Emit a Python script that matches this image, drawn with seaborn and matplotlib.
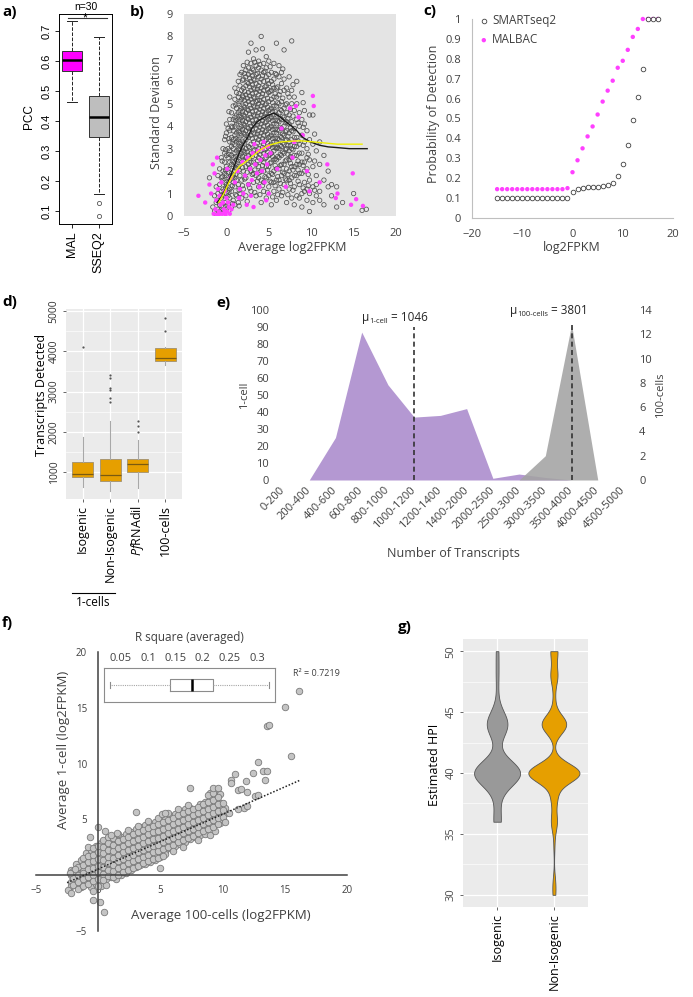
import numpy as np
import pandas as pd
import matplotlib
matplotlib.use("Agg")
import matplotlib.pyplot as plt
import seaborn as sns

# ---------------- data ----------------

# a) PCC per method (box summary)
a_groups = ['MAL', 'SSEQ2']
a_colors = ['#FF00FF', '#BEBEBE']
a_whislo = [0.465, 0.158]
a_q1 = [0.567, 0.348]
a_med = [0.604, 0.413]
a_q3 = [0.635, 0.485]
a_whishi = [0.735, 0.680]
a_fliers = [[], [0.128, 0.085]]

# b) SD vs mean log2FPKM, SMARTseq2 cloud given as columns (x, list of y)
b_smart_x = [-2.0, -1.6, -1.4, -1.2, -1.0, -0.8, -0.6, -0.4, -0.2,
             0.0, 0.2, 0.4, 0.6, 0.8, 1.0, 1.2, 1.4, 1.6, 1.8,
             2.0, 2.3, 2.6, 2.9, 3.2, 3.5, 3.8, 4.1, 4.4, 4.7, 5.0, 5.3, 5.6, 5.9,
             6.2, 6.5, 6.8, 7.1, 7.4, 7.7, 8.0, 8.3, 8.6, 8.9, 9.2, 9.5, 9.8,
             10.2, 10.6, 11.0, 11.5, 12.0, 12.4, 13.0, 13.7, 15.0, 16.0, 16.5]
b_smart_y = [
    [1.7], [0.4], [0.9, 0.2], [0.6, 1.3, 0.1], [0.3, 1.0, 1.8, 0.7],
    [0.5, 1.4, 2.1, 0.2], [0.8, 1.7, 0.3, 2.6, 1.1], [0.4, 1.2, 2.0, 3.0, 0.9, 1.6],
    [0.6, 1.5, 2.4, 3.4, 0.2, 1.9, 2.8],
    [0.3, 1.0, 1.8, 2.7, 3.7, 4.1, 2.2, 1.4],
    [0.5, 1.3, 2.1, 3.0, 3.9, 2.6, 1.7, 0.9],
    [0.8, 1.6, 2.4, 3.3, 4.3, 5.3, 2.9, 1.2, 3.8],
    [0.4, 1.1, 1.9, 2.7, 3.5, 4.6, 2.3, 3.1, 4.0],
    [0.7, 1.5, 2.2, 3.0, 3.8, 4.9, 2.6, 3.4, 4.3, 1.8],
    [0.5, 1.3, 2.0, 2.8, 3.6, 4.4, 5.2, 3.2, 2.4, 4.0, 1.7, 5.7],
    [0.9, 1.6, 2.5, 3.3, 4.1, 4.8, 5.5, 2.9, 3.7, 4.5, 2.1],
    [0.6, 1.4, 2.2, 3.0, 3.8, 4.6, 5.3, 6.0, 3.4, 4.2, 2.6, 5.0],
    [1.0, 1.8, 2.7, 3.5, 4.3, 5.1, 5.8, 3.1, 3.9, 4.7, 2.3, 6.3],
    [0.8, 1.6, 2.4, 3.2, 4.0, 4.8, 5.6, 6.4, 3.6, 4.4, 5.2, 2.8],
    [1.2, 2.0, 2.9, 3.7, 4.5, 5.3, 6.1, 6.7, 3.3, 4.1, 4.9, 5.7, 2.5],
    [0.9, 1.7, 2.6, 3.4, 4.2, 5.0, 5.8, 6.5, 3.0, 3.8, 4.6, 5.4, 6.2, 2.2],
    [1.4, 2.3, 3.1, 3.9, 4.7, 5.5, 6.3, 7.3, 2.7, 3.5, 4.3, 5.1, 5.9, 6.6],
    [1.1, 2.0, 2.8, 3.6, 4.4, 5.2, 6.0, 6.8, 3.2, 4.0, 4.8, 5.6, 6.4, 7.7, 2.4],
    [1.5, 2.4, 3.3, 4.1, 4.9, 5.7, 6.5, 3.7, 4.5, 5.3, 6.1, 2.9, 1.9, 7.0],
    [0.9, 1.8, 2.7, 3.5, 4.3, 5.1, 5.9, 6.7, 3.1, 3.9, 4.7, 5.5, 6.3, 2.3, 7.4],
    [1.3, 2.2, 3.0, 3.8, 4.6, 5.4, 6.2, 6.9, 3.4, 4.2, 5.0, 5.8, 6.6, 2.6, 1.7],
    [0.6, 1.6, 2.5, 3.3, 4.1, 4.9, 5.7, 6.5, 2.9, 3.7, 4.5, 5.3, 6.1, 2.0, 8.0],
    [1.1, 2.0, 2.8, 3.6, 4.4, 5.2, 6.0, 6.8, 3.2, 4.0, 4.8, 5.6, 6.4, 2.4, 1.5],
    [0.8, 1.7, 2.6, 3.4, 4.2, 5.0, 5.8, 6.6, 3.0, 3.8, 4.6, 5.4, 6.2, 2.2, 7.1],
    [1.3, 2.2, 3.1, 3.9, 4.7, 5.5, 6.3, 2.7, 3.5, 4.3, 5.1, 5.9, 1.8, 6.9],
    [0.5, 1.5, 2.4, 3.2, 4.0, 4.8, 5.6, 6.4, 2.8, 3.6, 4.4, 5.2, 6.0, 1.9],
    [1.1, 2.0, 2.9, 3.7, 4.5, 5.3, 6.1, 2.5, 3.3, 4.1, 4.9, 5.7, 6.8, 1.5],
    [0.7, 1.6, 2.5, 3.3, 4.1, 4.9, 5.7, 3.0, 3.7, 4.5, 5.3, 6.3, 2.1, 7.7],
    [1.2, 2.1, 3.0, 3.8, 4.6, 5.4, 6.2, 2.6, 3.4, 4.2, 5.0, 1.6, 6.7],
    [0.9, 1.8, 2.7, 3.5, 4.3, 5.1, 5.9, 3.1, 3.9, 4.7, 2.3, 6.4],
    [1.4, 2.3, 3.2, 4.0, 4.8, 5.6, 2.8, 3.6, 4.4, 1.9, 6.1, 7.4],
    [0.6, 1.6, 2.5, 3.4, 4.2, 5.0, 3.0, 3.8, 4.6, 2.1, 5.7],
    [1.2, 2.0, 2.9, 3.7, 4.5, 5.3, 2.5, 3.3, 4.1, 1.6, 6.2],
    [0.8, 1.7, 2.6, 3.4, 4.2, 5.0, 3.0, 3.8, 2.2, 5.6, 7.8],
    [1.3, 2.2, 3.1, 3.9, 4.7, 2.7, 3.5, 1.8, 5.3, 0.5],
    [0.9, 1.8, 2.7, 3.5, 4.3, 3.1, 2.3, 5.0, 6.0],
    [1.4, 2.3, 3.2, 4.0, 2.8, 1.9, 4.6, 0.8],
    [1.0, 1.9, 2.8, 3.6, 2.4, 4.3, 5.5, 0.4],
    [1.5, 2.4, 3.3, 2.0, 4.1, 1.1, 4.7],
    [1.2, 2.1, 3.0, 2.6, 3.8, 0.7],
    [1.6, 2.5, 1.0, 3.4, 4.5, 0.2],
    [1.3, 2.2, 0.6, 3.2, 4.5],
    [1.8, 0.9, 2.9, 1.4],
    [1.1, 2.3, 3.3, 0.7],
    [1.6, 0.5, 2.7],
    [1.3, 2.0],
    [1.4, 0.9],
    [0.4, 1.3],
    [0.6],
    [1.0],
    [0.25],
    [0.3],
]
# b) second set of SMARTseq2 columns filling the dense core
b_smart2_x = [-0.5, -0.1, 0.3, 0.7, 1.1, 1.5, 1.9, 2.15, 2.45, 2.75, 3.05, 3.35, 3.65, 3.95,
              4.25, 4.55, 4.85, 5.15, 5.45, 5.75, 6.05, 6.35, 6.65, 6.95, 7.25, 7.55, 7.85,
              8.45, 9.05, 9.65, 10.4]
b_smart2_y = [
    [0.15, 0.95, 1.75, 2.45], [0.45, 1.25, 2.05, 2.95, 3.55],
    [0.25, 1.05, 1.95, 2.75, 3.45, 4.65], [0.55, 1.35, 2.45, 3.25, 3.95, 1.75],
    [0.95, 1.85, 2.65, 3.45, 4.25, 4.95, 2.15], [0.45, 1.15, 2.05, 2.95, 3.75, 4.45, 5.45, 3.25],
    [1.35, 2.15, 3.05, 3.85, 4.65, 5.35, 6.05, 2.65, 4.25],
    [1.65, 2.45, 3.25, 4.05, 4.85, 5.55, 6.35, 3.65, 4.45, 5.15, 2.85],
    [0.65, 1.95, 2.85, 3.55, 4.35, 5.25, 5.95, 6.85, 3.95, 4.75],
    [1.25, 2.15, 3.05, 3.75, 4.55, 5.35, 6.15, 4.15, 4.95, 5.75, 2.55],
    [1.85, 2.65, 3.45, 4.25, 5.05, 5.85, 6.55, 3.85, 4.65, 5.45, 6.25],
    [1.05, 2.05, 2.95, 3.65, 4.45, 5.25, 6.05, 4.05, 4.85, 5.65, 6.85],
    [1.55, 2.45, 3.25, 4.05, 4.85, 5.65, 6.35, 3.65, 4.45, 5.15, 2.85],
    [0.95, 1.95, 2.75, 3.55, 4.35, 5.15, 5.95, 3.95, 4.75, 5.55, 6.75],
    [1.35, 2.25, 3.05, 3.85, 4.65, 5.45, 6.25, 3.45, 4.25, 5.05, 7.45],
    [1.75, 2.55, 3.35, 4.15, 4.95, 5.75, 6.45, 2.95, 3.75, 4.55],
    [1.05, 2.05, 2.85, 3.65, 4.45, 5.25, 6.05, 3.25, 4.05, 4.85, 5.65],
    [1.55, 2.35, 3.15, 3.95, 4.75, 5.55, 6.65, 2.75, 3.55, 4.35],
    [0.85, 1.85, 2.65, 3.45, 4.25, 5.05, 5.85, 3.05, 3.85, 4.65],
    [1.35, 2.25, 3.05, 3.85, 4.65, 5.45, 6.35, 2.55, 3.45, 4.25],
    [0.95, 1.75, 2.65, 3.45, 4.25, 5.05, 5.75, 3.05, 3.85],
    [1.45, 2.25, 3.15, 3.95, 4.75, 5.55, 2.75, 3.55, 4.35],
    [1.05, 1.95, 2.85, 3.65, 4.45, 5.25, 6.55, 3.25],
    [1.65, 2.45, 3.35, 4.15, 4.95, 2.95, 3.75],
    [0.95, 1.85, 2.75, 3.55, 4.35, 5.45, 3.15],
    [1.45, 2.35, 3.15, 3.95, 4.75, 2.65],
    [1.15, 2.05, 2.95, 3.75, 4.45, 5.85],
    [1.55, 2.45, 3.35, 4.15, 2.05],
    [1.25, 2.25, 3.15, 3.95, 5.05],
    [1.85, 2.75, 1.35],
    [2.45, 3.65, 1.15],
]
# b) MALBAC points (x, y)
b_malbac = [(-1.5, 0.1), (-1.3, 0.3), (-1.1, 0.05), (-0.9, 0.2), (-0.7, 0.5), (-0.5, 0.1),
            (-0.3, 0.3), (-0.1, 0.05), (0.1, 0.2), (0.3, 0.4), (-1.2, 0.7), (-0.8, 0.9),
            (-0.4, 0.6), (0.0, 0.8), (-1.0, 1.2), (-0.6, 1.5), (-1.4, 1.9), (-1.6, 2.3),
            (-2.0, 1.4), (-3.3, 0.9), (-2.5, 0.6), (-1.8, 1.0), (-1.1, 2.6), (-0.2, 1.1),
            (0.4, 0.1), (0.6, 0.3), (0.8, 0.5), (-0.9, 0.05), (-0.2, 0.15), (0.2, 0.6),
            (1.0, 1.5), (1.3, 2.0), (1.6, 1.2), (1.9, 2.4), (2.2, 1.8), (2.5, 2.6), (2.8, 2.1),
            (3.1, 2.8), (3.4, 2.3), (3.7, 2.9), (4.0, 2.5), (4.3, 3.0), (4.6, 2.7), (4.9, 3.1),
            (3.0, 1.6), (3.6, 1.9), (4.2, 2.0), (4.8, 2.3), (2.0, 1.0), (2.6, 1.4), (3.3, 3.2),
            (4.4, 3.3), (5.2, 2.8), (1.5, 0.8), (2.4, 0.5), (0.5, 1.7), (0.1, 2.1), (2.9, 0.9),
            (3.9, 1.3), (4.5, 1.5), (5.0, 1.0), (3.2, 0.4), (4.7, 0.7), (6.5, 3.9), (7.5, 4.8),
            (8.2, 4.9), (8.5, 4.4), (10.2, 5.35), (10.3, 4.9), (9.0, 3.6), (8.0, 3.3), (6.0, 2.1),
            (7.0, 1.3), (9.5, 2.0), (11.0, 1.5), (11.9, 2.3), (12.9, 0.8), (13.1, 1.0),
            (14.9, 1.9), (14.7, 0.5), (15.3, 0.75), (16.1, 0.45), (7.8, 2.6), (9.8, 1.1)]
# b) smoothed trend lines
b_smart_line_x = [-1.1, -0.5, 0, 0.5, 1, 1.5, 2, 2.5, 3, 3.5, 4, 4.5, 5, 5.6, 6.2, 7, 7.7,
                  8.3, 9, 9.9, 11, 12, 13, 14.5, 16.6]
b_smart_line_y = [0.6, 0.9, 1.3, 1.8, 2.3, 2.8, 3.2, 3.5, 3.9, 4.15, 4.3, 4.4, 4.5, 4.58,
                  4.45, 4.2, 4.0, 3.8, 3.5, 3.3, 3.15, 3.08, 3.05, 3.0, 3.0]
b_mal_line_x = [-0.9, -0.3, 0.3, 0.9, 1.5, 2.4, 3.2, 4.0, 5.0, 6.4, 7.5, 8.7, 10.3, 13.1, 16.0]
b_mal_line_y = [0.6, 1.0, 1.5, 1.9, 2.2, 2.45, 2.7, 2.95, 3.15, 3.3, 3.33, 3.35, 3.3, 3.2, 3.2]

# c) probability of detection
c_x = list(range(-15, 18))
c_smart = [0.10] * 15 + [0.13, 0.145, 0.15, 0.155, 0.155, 0.155, 0.16, 0.165, 0.175,
                         0.21, 0.27, 0.365, 0.49, 0.61, 0.75, 1.0, 1.0, 1.0]
c_malbac = [0.145] * 14 + [0.15, 0.23, 0.29, 0.35, 0.41, 0.46, 0.52, 0.585, 0.64, 0.69,
                           0.755, 0.79, 0.845, 0.91, 0.95, 1.0, 1.0, 1.0, 1.0]

# d) transcripts detected (box summary)
d_groups = ['Isogenic', 'Non-Isogenic', '$\\it{Pf}$RNAdil', '100-cells']
d_whislo = [630, 530, 604, 3648]
d_q1 = [876, 777, 990, 3748]
d_med = [960, 935, 1198, 3822]
d_q3 = [1247, 1322, 1322, 4069]
d_whishi = [1870, 2262, 1792, 4094]
d_fliers = [[4094], [2733, 2830, 3050, 3079, 3327, 3400], [1990, 2138, 2262], [4515, 4837]]

# e) histogram of transcripts
e_bins = ['0-200', '200-400', '400-600', '600-800', '800-1000', '1000-1200', '1200-1400',
          '1400-2000', '2000-2500', '2500-3000', '3000-3500', '3500-4000', '4000-4500',
          '4500-5000']
e_one_cell = [0, 0, 25, 87, 56, 37, 38, 42, 1, 3.5, 1.5, 0, 0, 0]
e_hundred = [0, 0, 0, 0, 0, 0, 0, 0, 0, 0, 2.0, 12.8, 0, 0]
e_mean_bins = ['1000-1200', '3500-4000']
e_mean_top = [90, 92]

# f) 1-cell vs 100-cell averages, dense band as columns
f_band_x = [-2.2, -1.8, -1.4, -1.0, -0.6, -0.2, 0.2, 0.6, 1.0, 1.4, 1.8, 2.2, 2.6, 3.0, 3.4,
            3.8, 4.2, 4.6, 5.0, 5.4, 5.8, 6.2, 6.6, 7.0, 7.4, 7.8, 8.2, 8.6, 9.0, 9.4, 9.8, 10.2]
f_band_y = [
    [-0.6, 0.0, -1.0, 0.5], [-0.3, 0.4, -0.9, 1.0, 0.1], [-0.5, 0.2, 0.8, -1.1, 1.4, 0.0],
    [-0.2, 0.5, 1.1, -0.8, 1.6, 0.0, 2.0], [0.1, 0.7, 1.3, -0.6, 1.9, -1.1, 2.3, 0.4],
    [-0.3, 0.3, 0.9, 1.5, 2.1, -0.8, 2.6, 1.2], [0.0, 0.6, 1.2, 1.8, 2.4, -0.6, 2.9, -1.0, 0.9],
    [0.3, 0.9, 1.5, 2.1, 2.7, -0.3, -0.9, 1.2, 3.1], [0.5, 1.1, 1.7, 2.3, 2.9, -0.2, 0.0, 1.4, 3.3],
    [0.2, 0.8, 1.4, 2.0, 2.6, 3.2, 1.1, 1.7, -0.3], [0.4, 1.0, 1.6, 2.2, 2.8, 3.4, 1.3, 1.9, 0.0],
    [0.7, 1.3, 1.9, 2.5, 3.1, 3.7, 1.6, 2.2, 0.2], [0.9, 1.5, 2.1, 2.7, 3.3, 3.9, 1.8, 2.4, 0.5],
    [1.1, 1.7, 2.3, 2.9, 3.5, 4.1, 2.0, 2.6, 0.7], [1.3, 1.9, 2.5, 3.1, 3.7, 4.3, 2.2, 2.8, 0.9],
    [1.5, 2.1, 2.7, 3.3, 3.9, 4.5, 2.4, 3.0, 1.0], [1.6, 2.2, 2.8, 3.4, 4.0, 4.6, 2.5, 3.1, 1.2],
    [1.8, 2.4, 3.0, 3.6, 4.2, 4.8, 2.7, 3.3, 1.4], [2.0, 2.6, 3.2, 3.8, 4.4, 5.0, 2.9, 3.5, 1.6],
    [2.2, 2.8, 3.4, 4.0, 4.6, 5.2, 3.1, 3.7, 1.9], [2.4, 3.0, 3.6, 4.2, 4.8, 5.3, 3.3, 3.9],
    [2.6, 3.2, 3.8, 4.4, 5.0, 5.5, 3.5, 4.1], [2.8, 3.4, 4.0, 4.6, 5.2, 5.7, 3.7, 4.3],
    [3.0, 3.6, 4.2, 4.8, 5.4, 5.9, 3.9, 4.5], [3.2, 3.8, 4.4, 5.0, 5.6, 6.0, 4.1, 4.7],
    [3.4, 4.0, 4.6, 5.2, 5.8, 4.3, 4.9], [3.6, 4.2, 4.8, 5.4, 6.0, 4.5, 5.1, 6.4],
    [3.7, 4.3, 4.9, 5.5, 6.1, 4.6, 5.2, 6.6], [3.6, 4.4, 5.0, 5.6, 6.2, 4.7, 5.3, 6.9, 7.4],
    [4.0, 4.6, 5.2, 5.8, 6.4, 4.9, 5.5, 7.1, 7.6], [4.7, 5.3, 5.9, 6.5, 5.0, 7.3], [5.6, 6.0],
]
f_band2_x = [-2.0, -1.6, -1.2, -0.8, -0.4, 0.0, 0.4, 0.8, 1.2, 1.6, 2.0, 2.4, 2.8, 3.2, 3.6,
             4.0, 4.4, 4.8, 5.2, 5.6, 6.0, 6.4, 6.8, 7.2, 7.6, 8.0, 8.4, 8.8, 9.2, 9.6, 10.0]
f_band2_y = [
    [-0.85, -0.25, 0.35], [-0.65, 0.05, 0.75, -1.25], [-0.35, 0.35, 0.95, 1.55, -0.95],
    [-0.15, 0.55, 1.15, 1.75, -0.75, 2.55], [0.05, 0.65, 1.25, 1.85, -0.55, 2.45, -1.45],
    [0.25, 0.85, 1.45, 2.05, 2.65, -0.35, -0.95], [0.15, 0.75, 1.35, 1.95, 2.55, -0.45, 3.15],
    [0.45, 1.05, 1.65, 2.25, 2.85, -0.05, 3.45], [0.35, 0.95, 1.55, 2.15, 2.75, 3.35, -0.15],
    [0.65, 1.25, 1.85, 2.45, 3.05, 3.65, 0.05], [0.85, 1.45, 2.05, 2.65, 3.25, 0.25],
    [1.05, 1.65, 2.25, 2.85, 3.45, 4.05, 0.45], [1.25, 1.85, 2.45, 3.05, 3.65, 0.65],
    [1.45, 2.05, 2.65, 3.25, 3.85, 4.45, 0.85], [1.65, 2.25, 2.85, 3.45, 4.05, 1.05],
    [1.85, 2.45, 3.05, 3.65, 4.25, 4.85, 1.25], [2.05, 2.65, 3.25, 3.85, 4.45, 1.45],
    [2.15, 2.75, 3.35, 3.95, 4.55, 5.15, 1.55], [2.35, 2.95, 3.55, 4.15, 4.75, 1.75],
    [2.55, 3.15, 3.75, 4.35, 4.95, 5.55], [2.75, 3.35, 3.95, 4.55, 5.15, 2.15],
    [2.95, 3.55, 4.15, 4.75, 5.35, 5.95], [3.15, 3.75, 4.35, 4.95, 5.55, 2.55],
    [3.35, 3.95, 4.55, 5.15, 5.75, 6.25], [3.55, 4.15, 4.75, 5.35, 5.95],
    [3.75, 4.35, 4.95, 5.55, 6.15, 3.15], [3.95, 4.55, 5.15, 5.75, 6.35],
    [4.15, 4.75, 5.35, 5.95, 6.55, 7.15], [4.35, 4.95, 5.55, 6.15, 6.75, 7.35],
    [4.55, 5.15, 5.75, 6.35, 7.05], [5.25, 5.85, 6.45],
]
f_extra = [(16.17, 16.53), (15.0, 15.04), (13.54, 13.4), (13.75, 13.49), (15.5, 10.65),
           (12.87, 10.14), (13.27, 9.34), (13.54, 9.34), (13.4, 8.53), (12.47, 9.16),
           (11.88, 8.44), (11.0, 9.1), (10.65, 8.5), (10.7, 8.25), (11.26, 7.6), (11.45, 7.7),
           (12.0, 7.47), (12.6, 7.1), (12.87, 7.2), (11.72, 5.99), (12.0, 6.2), (11.2, 5.9),
           (10.5, 5.6), (10.2, 4.8), (7.38, 7.84), (9.26, 7.8), (9.6, 7.8), (3.04, 5.69),
           (5.1, 5.5), (5.37, 5.55), (-0.04, 4.32), (0.55, 3.97), (-0.63, 3.45), (1.5, 3.8),
           (1.0, 3.6), (-0.4, -2.22), (0.14, -2.43), (0.49, -3.3), (-2.45, -1.33),
           (-2.18, -1.63), (4.97, 0.62), (-1.87, 0.53), (-2.27, 0.17), (-1.2, 0.17)]
f_trend_x = [-2.5, 16.2]
f_trend_y = [-0.67, 8.5]
f_r2_stats = dict(whislo=0.030, q1=0.141, med=0.180, q3=0.220, whishi=0.3215)

# g) estimated HPI, value -> number of cells, and kernel bandwidth (hours)
g_groups = ['Isogenic', 'Non-Isogenic']
g_iso_hpi = [36, 38, 40, 44, 46, 48, 50]
g_iso_n = [6, 3, 40, 18, 1, 2, 2]
g_iso_bw = 1.05
g_non_hpi = [30, 31, 34, 36, 38, 40, 44, 46, 48, 50]
g_non_n = [2, 2, 1, 6, 6, 52, 25, 2, 7, 7]
g_non_bw = 0.78

# ---------------- figure ----------------
plt.rcParams['font.family'] = ['Open Sans', 'DejaVu Sans']
plt.rcParams['mathtext.fontset'] = 'custom'
plt.rcParams['mathtext.rm'] = 'Open Sans'
plt.rcParams['mathtext.it'] = 'Open Sans:italic'

W, H = 693, 997
fig = plt.figure(figsize=(W / 100, H / 100), dpi=100)
TXT = '#404040'


def px_axes(left, top, right, bottom):
    return fig.add_axes([left / W, 1 - bottom / H, (right - left) / W, (bottom - top) / H])


def ftext(x, y, s, **kw):
    kw.setdefault('ha', 'center')
    kw.setdefault('va', 'center')
    return fig.text(x / W, 1 - y / H, s, **kw)


def box_stats(labels, lo, q1, med, q3, hi, fl):
    return [dict(label=l, whislo=a, q1=b, med=c, q3=d, whishi=e, fliers=f)
            for l, a, b, c, d, e, f in zip(labels, lo, q1, med, q3, hi, fl)]


def columns(xs, ys):
    x = np.repeat(xs, [len(c) for c in ys])
    y = np.concatenate([np.array(c, dtype=float) for c in ys])
    return x, y


# panel labels
for lab, x, y in [('a)', 2, 12), ('b)', 130, 12), ('c)', 423, 11), ('d)', 2, 302),
                  ('e)', 216, 303), ('f)', 2, 623), ('g)', 398, 627)]:
    ftext(x, y, lab, ha='left', fontsize=11, fontweight='bold', color='black')

# ---- a) ----
ax = px_axes(59, 14, 112, 224)
bp = ax.bxp(box_stats(a_groups, a_whislo, a_q1, a_med, a_q3, a_whishi, a_fliers),
            positions=[1, 2], widths=0.75, patch_artist=True,
            boxprops=dict(edgecolor='#333333', linewidth=0.7),
            whiskerprops=dict(linestyle='--', linewidth=0.7, color='#222222'),
            capprops=dict(linewidth=0.7, color='#222222'),
            medianprops=dict(color='black', linewidth=1.8),
            flierprops=dict(marker='o', markerfacecolor='none', markeredgecolor='#555555',
                            markersize=3, markeredgewidth=0.6))
for patch, col in zip(bp['boxes'], a_colors):
    patch.set_facecolor(col)
ax.set_xlim(0.5, 2.5)
ax.set_ylim(0.057, 0.757)
ax.set_yticks([0.1, 0.2, 0.3, 0.4, 0.5, 0.6, 0.7])
ax.set_yticklabels(['0.1', '0.2', '0.3', '0.4', '0.5', '0.6', '0.7'], rotation=90,
                   va='center', family='Liberation Sans', fontsize=8)
ax.set_xticks([1, 2])
ax.set_xticklabels(a_groups, rotation=90, family='Liberation Sans', fontsize=9)
ax.tick_params(length=3, width=0.6, pad=2)
for s in ax.spines.values():
    s.set_linewidth(0.7)
ax.plot([0.84, 2.31], [0.742, 0.742], color='#333333', lw=0.8, clip_on=False)
ax.text(1.47, 0.742, '*', ha='center', va='center', fontsize=9, family='Liberation Sans')
ftext(86, 7, 'n=30', fontsize=7.5, family='Liberation Sans')
ftext(29, 117, 'PCC', rotation=90, fontsize=8.5, family='Liberation Sans')

# ---- b) ----
ax = px_axes(184, 14, 396, 216)
ax.set_facecolor('#E4E4E4')
bx1, by1 = columns(b_smart_x, b_smart_y)
bx2, by2 = columns(b_smart2_x, b_smart2_y)
ax.scatter(np.concatenate([bx1, bx2]), np.concatenate([by1, by2]), s=10, facecolors='none',
           edgecolors='#505050', linewidths=0.55, zorder=2)
mal = pd.DataFrame(b_malbac, columns=['x', 'y'])
sns.scatterplot(data=mal, x='x', y='y', ax=ax, s=10, color='#FF40FF', edgecolor='none',
                zorder=3)
sns.lineplot(x=b_smart_line_x, y=b_smart_line_y, ax=ax, color='#1a1a1a', lw=1.0,
             sort=False, zorder=4)
sns.lineplot(x=b_mal_line_x, y=b_mal_line_y, ax=ax, color='#F0F000', lw=1.0,
             sort=False, zorder=4)
ax.set_xlim(-5, 20)
ax.set_ylim(0, 9)
ax.set_xticks([-5, 0, 5, 10, 15, 20])
ax.set_yticks(range(0, 10))
ax.set_xlabel('')
ax.set_ylabel('')
for s in ax.spines.values():
    s.set_visible(False)
ax.tick_params(length=0, labelsize=8, labelcolor=TXT)
ax.tick_params(axis='x', pad=9)
ax.tick_params(axis='y', pad=8)
ftext(292, 248, 'Average log2FPKM', fontsize=9, color=TXT)
ftext(157, 113, 'Standard Deviation', rotation=90, fontsize=9, color=TXT)

# ---- c) ----
ax = px_axes(472, 19, 673, 218)
ax.scatter(c_x, c_malbac, s=10, color='#FF40FF', edgecolors='none', zorder=3,
           clip_on=False, label='MALBAC')
ax.scatter(c_x, c_smart, s=11, facecolors='white', edgecolors='#404040', linewidths=0.6,
           zorder=4, clip_on=False, label='SMARTseq2')
ax.set_xlim(-20, 20)
ax.set_ylim(0, 1)
ax.set_xticks([-20, -10, 0, 10, 20])
ax.set_yticks(np.arange(0, 11) / 10)
ax.set_yticklabels(['0', '0.1', '0.2', '0.3', '0.4', '0.5', '0.6', '0.7', '0.8', '0.9', '1'])
for side in ['top', 'right']:
    ax.spines[side].set_visible(False)
for side in ['left', 'bottom']:
    ax.spines[side].set_color('#BFBFBF')
    ax.spines[side].set_linewidth(0.8)
ax.tick_params(length=0, labelsize=8, labelcolor=TXT)
ax.tick_params(axis='x', pad=8)
ax.tick_params(axis='y', pad=8)
h, l = ax.get_legend_handles_labels()
ax.legend(h[::-1], l[::-1], loc='upper left', bbox_to_anchor=(0.0, 1.05), frameon=False,
          fontsize=8.5, handletextpad=0.1, labelspacing=0.55, borderaxespad=0,
          handlelength=1.2, labelcolor=TXT)
ftext(572, 248, 'log2FPKM', fontsize=9, color=TXT)
ftext(433, 114, 'Probability of Detection', rotation=90, fontsize=9, color=TXT)

# ---- d) ----
ax = px_axes(66, 309, 182, 499)
ax.set_facecolor('#EBEBEB')
bp = ax.bxp(box_stats(d_groups, d_whislo, d_q1, d_med, d_q3, d_whishi, d_fliers),
            positions=[1, 2, 3, 4], widths=0.75, patch_artist=True, showcaps=False,
            boxprops=dict(facecolor='#E69F00', edgecolor='#A09070', linewidth=0.6),
            whiskerprops=dict(color='#A8A8A8', linewidth=0.8),
            medianprops=dict(color='#7A5A10', linewidth=0.9),
            flierprops=dict(marker='o', markerfacecolor='#555555', markeredgecolor='none',
                            markersize=1.6))
ax.set_xlim(0.4, 4.6)
ax.set_ylim(330, 5050)
ax.set_yticks([1000, 2000, 3000, 4000, 5000])
ax.set_yticks([1500, 2500, 3500, 4500], minor=True)
ax.set_yticklabels(['1000', '2000', '3000', '4000', '5000'], rotation=90, va='center')
ax.set_xticks([1, 2, 3, 4])
ax.set_xticklabels(d_groups, rotation=90)
ax.grid(True, which='major', color='white', lw=0.9)
ax.grid(True, which='minor', axis='y', color='white', lw=0.45)
ax.set_axisbelow(True)
for s in ax.spines.values():
    s.set_visible(False)
ax.tick_params(which='major', length=2.5, width=0.6, color='#4D4D4D', labelsize=7.5,
               labelcolor='#333333', pad=2)
ax.tick_params(axis='x', labelsize=9, labelcolor='black')
ax.tick_params(which='minor', length=0)
ftext(42, 395, 'Transcripts Detected', rotation=90, fontsize=9)
fig.add_artist(plt.Line2D([72 / W, 115 / W], [1 - 593 / H, 1 - 593 / H], color='black', lw=0.8))
ftext(93, 602, '1-cells', fontsize=8.5)

# ---- e) ----
ax = px_axes(283, 310, 624, 480)
pos = np.arange(len(e_bins))
ax.fill_between(pos, e_one_cell, color='#B498D2', lw=0, zorder=1)
ax.set_xlim(0, len(e_bins) - 1)
ax.set_ylim(0, 100)
ax.set_yticks(range(0, 101, 10))
ax.set_xticks(pos)
ax.set_xticklabels(e_bins, rotation=45, ha='right', va='center', rotation_mode='anchor')
ax2 = ax.twinx()
ax2.fill_between(pos, e_hundred, color='#A3A3A3', alpha=0.88, lw=0, zorder=2)
ax2.set_ylim(0, 14)
ax2.set_yticks(range(0, 15, 2))
mean_pos = [e_bins.index(b) for b in e_mean_bins]
ax2.vlines(mean_pos, 0, np.array(e_mean_top) * 14 / 100, colors='#333333', lw=1.2,
           linestyles=(0, (3, 2)), zorder=5)
for a_ in (ax, ax2):
    for s in a_.spines.values():
        s.set_visible(False)
    a_.tick_params(length=0, labelsize=8, labelcolor=TXT)
ax.tick_params(axis='y', pad=10)
ax.tick_params(axis='x', pad=6)
ax2.tick_params(axis='y', pad=11)
ftext(245, 395, '1-cell', rotation=90, fontsize=8, color=TXT)
ftext(661, 395, '100-cells', rotation=90, fontsize=8, color=TXT)
ftext(453, 553, 'Number of Transcripts', fontsize=9, color=TXT)

renderer = fig.canvas.get_renderer()


def chain_text(x, y, parts):
    for s, size, dy in parts:
        t = fig.text(x / W, 1 - (y + dy) / H, s, fontsize=size, ha='left', va='baseline',
                     color='#262626')
        x += t.get_window_extent(renderer).width


chain_text(362, 321, [('μ', 8.5, 0), ('1-cell', 5.5, 2), (' = 1046', 8.5, 0)])
chain_text(510, 314, [('μ', 8.5, 0), ('100-cells', 5.5, 2), (' = 3801', 8.5, 0)])

# ---- f) ----
ax = px_axes(36, 652, 347, 931)
fx1, fy1 = columns(f_band_x, f_band_y)
fx2, fy2 = columns(f_band2_x, f_band2_y)
fx = np.concatenate([fx1, fx2, [p[0] for p in f_extra]])
fy = np.concatenate([fy1, fy2, [p[1] for p in f_extra]])
sns.scatterplot(x=fx, y=fy, ax=ax, s=22, color='#C4C4C4', edgecolor='#7A7A7A',
                linewidth=0.6, zorder=2)
ax.plot(f_trend_x, f_trend_y, ls=(0, (1, 1.2)), color='#222222', lw=1.1, zorder=3)
ax.set_xlim(-5, 20)
ax.set_ylim(-5, 20)
ax.set_xticks([-5, 0, 5, 10, 15, 20])
ax.set_yticks([-5, 0, 5, 10, 15, 20])
ax.spines['left'].set_position(('data', 0))
ax.spines['bottom'].set_position(('data', 0))
ax.spines['top'].set_visible(False)
ax.spines['right'].set_visible(False)
for side in ['left', 'bottom']:
    ax.spines[side].set_color('#404040')
    ax.spines[side].set_linewidth(1.1)
ax.tick_params(length=0, labelsize=7, labelcolor=TXT)
ax.tick_params(axis='x', pad=7)
ax.tick_params(axis='y', pad=8)
ftext(221, 915, 'Average 100-cells (log2FPKM)', fontsize=9.5, color=TXT)
ftext(63, 750, 'Average 1-cell (log2FPKM)', rotation=90, fontsize=9.5, color=TXT)
ftext(316, 673, 'R² = 0.7219', fontsize=6.5, color=TXT)

axin = px_axes(104, 668, 275, 702)
axin.bxp([f_r2_stats], positions=[1], widths=0.36, vert=False, showfliers=False,
         boxprops=dict(color='#8C8C8C', linewidth=0.8),
         whiskerprops=dict(color='#A6A6A6', linewidth=0.8, linestyle=(0, (1, 1))),
         capprops=dict(color='#8C8C8C', linewidth=0.8),
         medianprops=dict(color='black', linewidth=1.8))
axin.set_xlim(0.019, 0.333)
axin.set_ylim(0.5, 1.5)
axin.set_yticks([])
axin.set_xticks([0.05, 0.1, 0.15, 0.2, 0.25, 0.3])
axin.set_xticklabels(['0.05', '0.1', '0.15', '0.2', '0.25', '0.3'])
axin.xaxis.tick_top()
axin.tick_params(length=0, labelsize=8, labelcolor=TXT, pad=3)
for s in axin.spines.values():
    s.set_color('#8C8C8C')
    s.set_linewidth(0.8)
ftext(189, 637, 'R square (averaged)', fontsize=8.5, color=TXT)

# ---- g) ----
ax = px_axes(463, 639, 588, 907)
ax.set_facecolor('#EBEBEB')
iso_vals = np.repeat(g_iso_hpi, g_iso_n).astype(float)
non_vals = np.repeat(g_non_hpi, g_non_n).astype(float)
g_iso = pd.DataFrame({'group': 'Isogenic', 'hpi': iso_vals})
g_non = pd.DataFrame({'group': 'Non-Isogenic', 'hpi': non_vals})
sns.violinplot(data=g_iso, x='group', y='hpi', order=g_groups, ax=ax, color='#999999',
               saturation=1, cut=0, bw_method=g_iso_bw / iso_vals.std(ddof=1), inner=None,
               width=0.81, density_norm='width', linecolor='#555555', linewidth=0.6,
               gridsize=200)
sns.violinplot(data=g_non, x='group', y='hpi', order=g_groups, ax=ax, color='#E69F00',
               saturation=1, cut=0, bw_method=g_non_bw / non_vals.std(ddof=1), inner=None,
               width=0.9, density_norm='width', linecolor='#555555', linewidth=0.6,
               gridsize=200)
ax.set_xlim(-0.6, 1.6)
ax.set_ylim(29, 51)
ax.set_yticks([30, 35, 40, 45, 50])
ax.set_yticks([32.5, 37.5, 42.5, 47.5], minor=True)
ax.set_yticklabels(['30', '35', '40', '45', '50'], rotation=90, va='center')
ax.set_xticks([0, 1])
ax.set_xticklabels(g_groups, rotation=90)
ax.set_xlabel('')
ax.set_ylabel('')
ax.grid(True, which='major', color='white', lw=0.9)
ax.grid(True, which='minor', axis='y', color='white', lw=0.45)
ax.set_axisbelow(True)
for s in ax.spines.values():
    s.set_visible(False)
ax.tick_params(which='major', length=2.5, width=0.6, color='#4D4D4D', labelsize=8,
               labelcolor='#4D4D4D', pad=2)
ax.tick_params(axis='x', labelsize=9, labelcolor='black')
ax.tick_params(which='minor', length=0)
ftext(435, 765, 'Estimated HPI', rotation=90, fontsize=9)

fig.savefig('out.png', dpi=100)
